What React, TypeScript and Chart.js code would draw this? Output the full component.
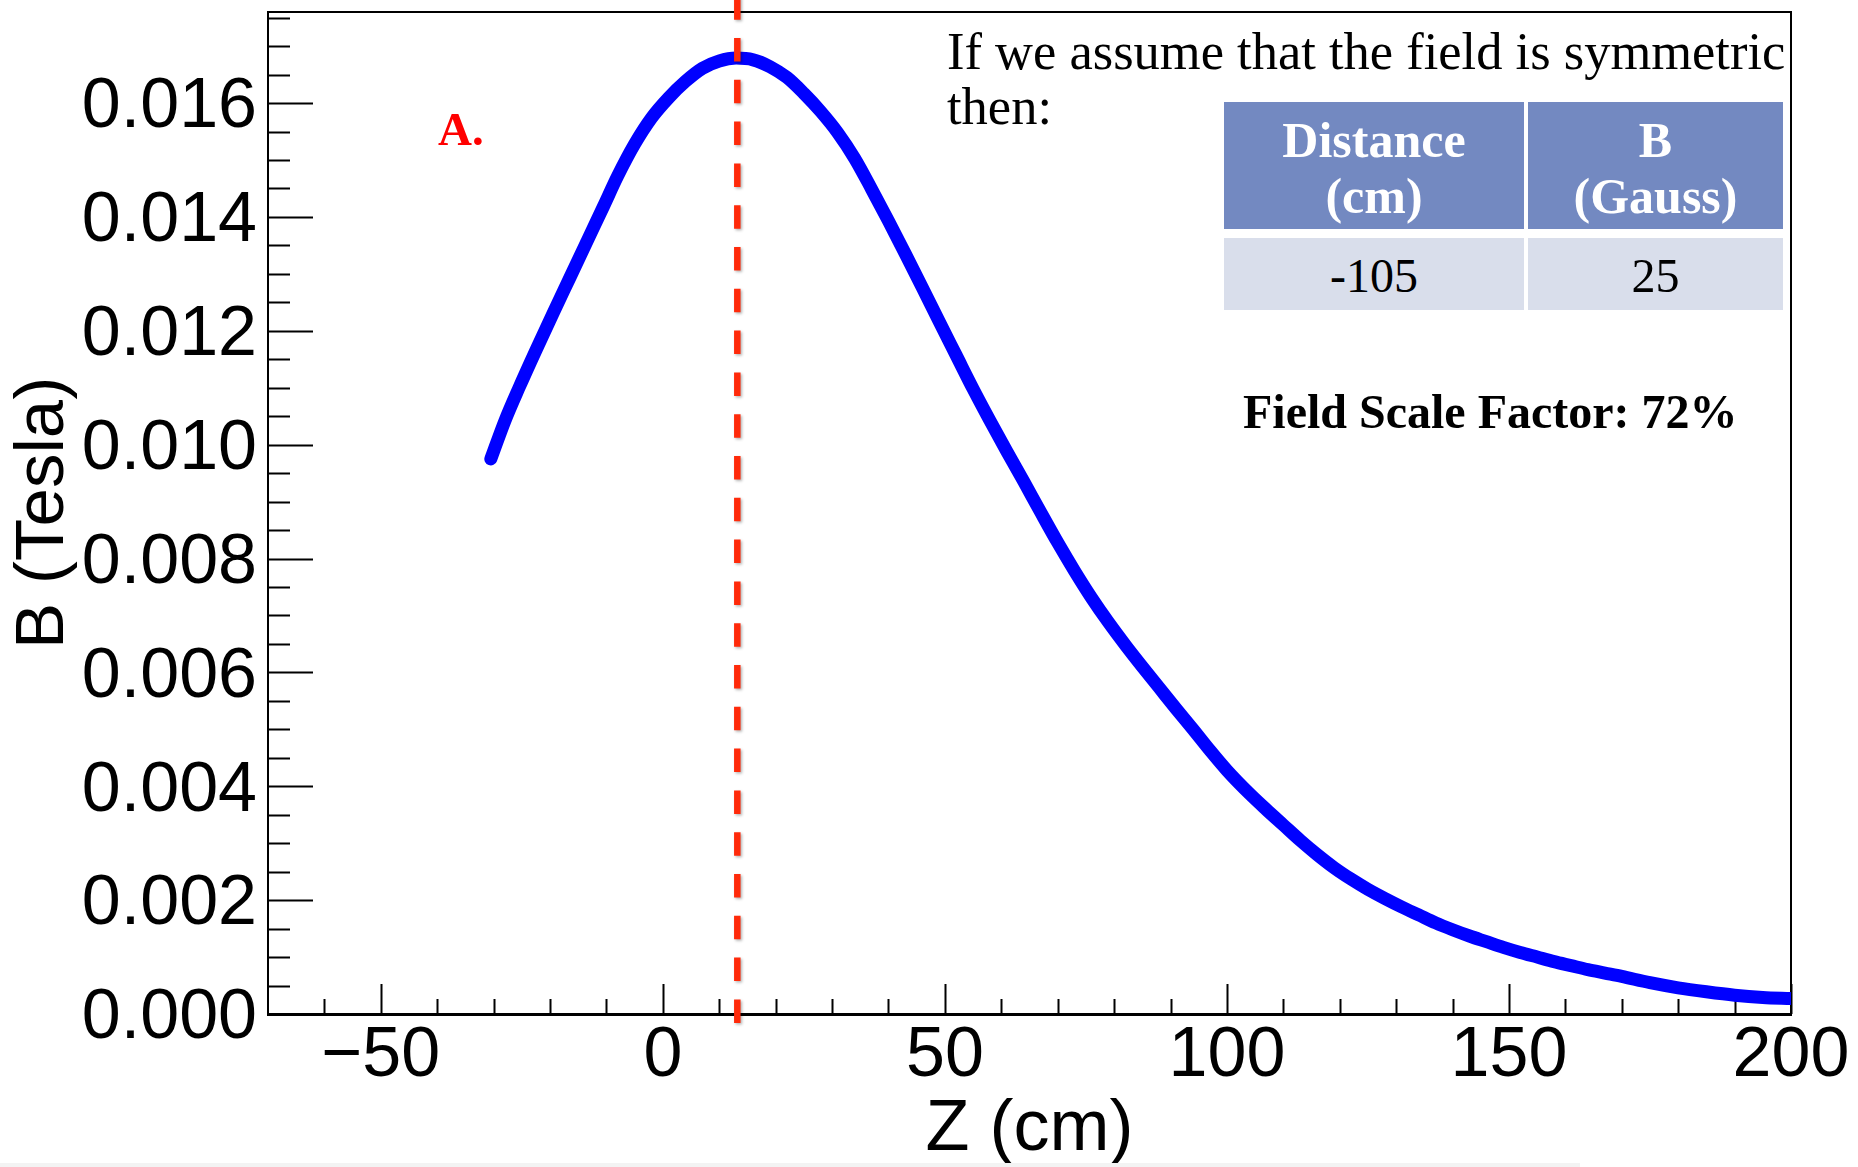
import React, { useEffect, useRef } from "react";
import { Chart, registerables } from "chart.js";

Chart.register(...registerables);

// ---------------- data ----------------
const zValues = [
  -30.5, -28, -25.5, -22.5, -19.5, -16.5, -13.5, -10.5, -8, -5,
  -2, 1, 4, 7, 10, 13, 16, 19, 22, 25,
  28, 31, 34, 37, 40, 43, 46, 49, 52, 55,
  58, 61, 64, 67, 70, 73, 76, 79, 82, 85,
  88, 91, 94, 97, 100, 104, 107, 110, 113, 116,
  119, 122, 125, 128, 131, 134, 137, 140, 143, 146,
  149, 152, 155, 158, 161, 164, 167, 170, 175, 180,
  185, 190, 195, 200,
];
const bValues = [
  0.00975, 0.01042, 0.011, 0.01166, 0.0123, 0.01293, 0.01356, 0.01419, 0.01472, 0.01528,
  0.01574, 0.01609, 0.01638, 0.01661, 0.01674, 0.01679, 0.01676, 0.01664, 0.01645, 0.01617,
  0.01585, 0.01548, 0.01503, 0.01449, 0.01393, 0.01335, 0.01276, 0.01216, 0.01157, 0.01098,
  0.01042, 0.00988, 0.00935, 0.00881, 0.00828, 0.00778, 0.00731, 0.00688, 0.00648, 0.0061,
  0.00573, 0.00536, 0.005, 0.00463, 0.00428, 0.00387, 0.00359, 0.00332, 0.00305, 0.0028,
  0.00257, 0.00237, 0.00219, 0.00203, 0.00188, 0.00174, 0.0016, 0.00148, 0.00137, 0.00127,
  0.00117, 0.00108, 0.001, 0.00092, 0.00085, 0.00078, 0.00072, 0.00066, 0.00055, 0.00046,
  0.00039, 0.00033, 0.00029, 0.00027,
];
const PEAK_Z = 13.2;

const X_MIN = -70;
const X_MAX = 200;
const Y_MIN = 0;
const Y_MAX = 0.0176;
const X_TICKS = [-50, 0, 50, 100, 150, 200];
const Y_TICKS = [0, 0.002, 0.004, 0.006, 0.008, 0.01, 0.012, 0.014, 0.016];
const X_MINOR_STEP = 10;
const Y_MINOR_STEP = 0.0005;

const X_TITLE = "Z (cm)";
const Y_TITLE = "B (Tesla)";

const NOTE_LINE_1 = "If we assume that the field is symmetric";
const NOTE_LINE_2 = "then:";
const PANEL_LABEL = "A.";
const TABLE_HEAD_1 = ["Distance", "(cm)"];
const TABLE_HEAD_2 = ["B", "(Gauss)"];
const TABLE_ROW = ["-105", "25"];
const SCALE_NOTE = "Field Scale Factor: 72%";

// ---------------- styling ----------------
const W = 1858;
const H = 1167;
const SANS = '"Liberation Sans", Arial, Helvetica, sans-serif';
const SERIF = '"Liberation Serif", "Times New Roman", serif';
const SERIF_ASC = 0.8375;
const Y_LABEL_SHIFT = 5;

const rootAxesPlugin = {
  id: "rootAxes",
  beforeDatasetsDraw(chart: any) {
    const { ctx, chartArea: a, scales } = chart;
    const xs = scales.x;
    const ys = scales.y;
    ctx.save();
    ctx.strokeStyle = "#000";
    ctx.lineWidth = 2;
    ctx.beginPath();
    ctx.moveTo(a.left, a.top);
    ctx.lineTo(a.right, a.top);
    ctx.lineTo(a.right, a.bottom);
    ctx.stroke();

    ctx.beginPath();
    const nx = Math.round((X_MAX - X_MIN) / X_MINOR_STEP);
    for (let i = 1; i <= nx; i++) {
      const v = X_MIN + i * X_MINOR_STEP;
      const major = X_TICKS.some((t) => Math.abs(t - v) < 1e-6);
      const px = Math.round(xs.getPixelForValue(v)) + 0.5;
      ctx.moveTo(px, a.bottom);
      ctx.lineTo(px, a.bottom - (major ? 30 : 15));
    }
    const ny = Math.floor((Y_MAX - Y_MIN) / Y_MINOR_STEP + 1e-6);
    for (let i = 1; i <= ny; i++) {
      const v = Y_MIN + i * Y_MINOR_STEP;
      const major = Y_TICKS.some((t) => Math.abs(t - v) < 1e-9);
      const py = Math.round(ys.getPixelForValue(v)) + 0.5;
      ctx.moveTo(a.left, py);
      ctx.lineTo(a.left + (major ? 45 : 22), py);
    }
    ctx.stroke();
    ctx.restore();
  },
  afterDatasetsDraw(chart: any) {
    const { ctx, chartArea: a, scales } = chart;
    const px = scales.x.getPixelForValue(PEAK_Z);
    ctx.save();
    ctx.strokeStyle = "#ff2a0a";
    ctx.lineWidth = 6.5;
    ctx.setLineDash([23.5, 18.3]);
    ctx.shadowColor = "rgba(0,0,0,0.3)";
    ctx.shadowBlur = 3;
    ctx.shadowOffsetX = 1.5;
    ctx.shadowOffsetY = 1.5;
    ctx.beginPath();
    ctx.moveTo(px, a.top - 15.8);
    ctx.lineTo(px, a.bottom + 14);
    ctx.stroke();
    ctx.restore();
  },
};

function SerifText(props: any) {
  const { x, baseline, size, bold, color, center, children } = props;
  const style: any = {
    position: "absolute",
    top: baseline - SERIF_ASC * size,
    left: x,
    fontFamily: SERIF,
    fontSize: size,
    lineHeight: `${size}px`,
    fontWeight: bold ? 700 : 400,
    color: color || "#000",
    whiteSpace: "nowrap",
  };
  if (center) style.transform = "translateX(-50%)";
  return <div style={style}>{children}</div>;
}

function Cell(props: any) {
  const { left, top, width, height, bg } = props;
  return (
    <div
      style={{ position: "absolute", left, top, width, height, background: bg }}
    />
  );
}

export default function App() {
  const canvasRef = useRef<HTMLCanvasElement>(null);

  useEffect(() => {
    const canvas = canvasRef.current;
    if (!canvas) return;
    const chart = new Chart(canvas, {
      type: "scatter",
      data: {
        datasets: [
          {
            data: zValues.map((z, i) => ({ x: z, y: bValues[i] })),
            showLine: true,
            borderColor: "#0000ff",
            backgroundColor: "#0000ff",
            borderWidth: 13,
            pointRadius: 0,
            borderCapStyle: "round",
            borderJoinStyle: "round",
            cubicInterpolationMode: "monotone",
          } as any,
        ],
      },
      options: {
        responsive: false,
        animation: false,
        devicePixelRatio: 1,
        layout: { padding: { top: 12, right: 67, left: 0, bottom: 0 } },
        plugins: { legend: { display: false }, tooltip: { enabled: false } },
        scales: {
          x: {
            type: "linear",
            min: X_MIN,
            max: X_MAX,
            afterBuildTicks: (s: any) => {
              s.ticks = X_TICKS.map((v) => ({ value: v }));
            },
            afterFit: (s: any) => {
              s.height = H - 1014;
              s.paddingLeft = 0;
              s.paddingRight = 0;
            },
            grid: { display: false, drawTicks: false },
            border: { display: true, color: "#000", width: 3 },
            ticks: {
              autoSkip: false,
              maxRotation: 0,
              minRotation: 0,
              padding: 8,
              color: "#000",
              font: { family: SANS, size: 70, lineHeight: 1 },
              callback: (v: any) => String(v).replace("-", "\u2212"),
            },
            title: {
              display: true,
              text: X_TITLE,
              color: "#000",
              font: { family: SANS, size: 72, lineHeight: 1 },
              padding: { top: 0, bottom: 1 },
            },
          },
          y: {
            type: "linear",
            min: Y_MIN,
            max: Y_MAX,
            afterBuildTicks: (s: any) => {
              s.ticks = Y_TICKS.map((v) => ({ value: v }));
            },
            afterFit: (s: any) => {
              s.width = 268;
              s.paddingTop = 0;
              s.paddingBottom = 0;
            },
            grid: { display: false, drawTicks: false },
            border: { display: true, color: "#000", width: 2 },
            ticks: {
              autoSkip: false,
              padding: 11,
              color: "#000",
              // two-line label with a small line height nudges the text down a few px
              font: { family: SANS, size: 70, lineHeight: (2 * Y_LABEL_SHIFT) / 70 },
              callback: (v: any) => ["", Number(v).toFixed(3)],
            },
            title: {
              display: true,
              text: Y_TITLE,
              color: "#000",
              font: { family: SANS, size: 69, lineHeight: 1 },
              padding: { top: 9, bottom: 0 },
            },
          },
        },
      } as any,
      plugins: [rootAxesPlugin],
    });
    return () => chart.destroy();
  }, []);

  const HEAD = "#7389c1";
  const BODY = "#d9deeb";
  const c1 = 1374;
  const c2 = 1655.5;

  return (
    <div
      style={{
        position: "fixed",
        left: 0,
        top: 0,
        width: W,
        height: H,
        background: "#fff",
        overflow: "hidden",
      }}
    >
      <canvas
        ref={canvasRef}
        width={W}
        height={H}
        style={{ position: "absolute", left: 0, top: 0, width: W, height: H }}
      />
      <SerifText x={438} baseline={145} size={47} bold color="#ff0000">
        {PANEL_LABEL}
      </SerifText>
      <SerifText x={947} baseline={68.5} size={52.5}>
        {NOTE_LINE_1}
      </SerifText>
      <SerifText x={947} baseline={123.5} size={52.5}>
        {NOTE_LINE_2}
      </SerifText>

      <Cell left={1224} top={102} width={300} height={127} bg={HEAD} />
      <Cell left={1528} top={102} width={255} height={127} bg={HEAD} />
      <Cell left={1224} top={238} width={300} height={72} bg={BODY} />
      <Cell left={1528} top={238} width={255} height={72} bg={BODY} />
      <SerifText x={c1} baseline={157} size={50} bold color="#fff" center>
        {TABLE_HEAD_1[0]}
      </SerifText>
      <SerifText x={c1} baseline={213} size={50} bold color="#fff" center>
        {TABLE_HEAD_1[1]}
      </SerifText>
      <SerifText x={c2} baseline={157} size={50} bold color="#fff" center>
        {TABLE_HEAD_2[0]}
      </SerifText>
      <SerifText x={c2} baseline={213} size={50} bold color="#fff" center>
        {TABLE_HEAD_2[1]}
      </SerifText>
      <SerifText x={c1} baseline={292} size={48} center>
        {TABLE_ROW[0]}
      </SerifText>
      <SerifText x={c2} baseline={292} size={48} center>
        {TABLE_ROW[1]}
      </SerifText>

      <SerifText x={1243} baseline={428.5} size={48} bold>
        {SCALE_NOTE}
      </SerifText>

      <div
        style={{
          position: "absolute",
          left: 0,
          top: 1163,
          width: 1580,
          height: 4,
          background: "#f3f3f3",
        }}
      />
    </div>
  );
}
